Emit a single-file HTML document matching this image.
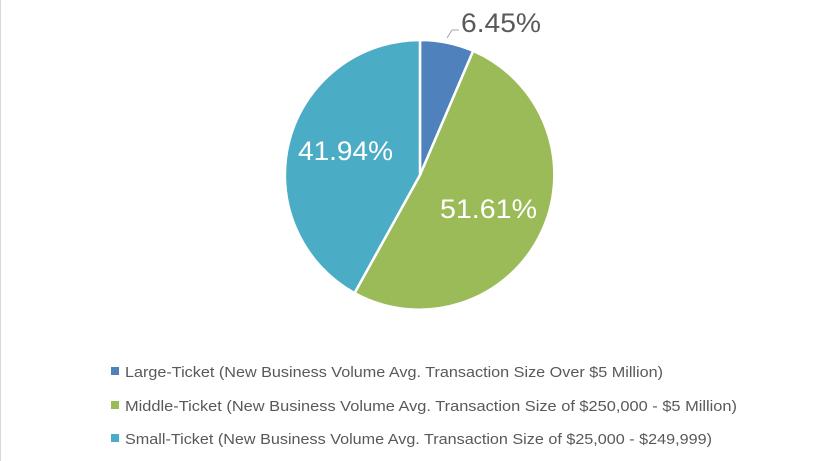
<!DOCTYPE html>
<html><head><style>body{margin:0;background:#fff}svg{display:block}</style></head><body>
<svg width="838" height="461" xmlns="http://www.w3.org/2000/svg" font-family="Liberation Sans, sans-serif">
<rect width="838" height="461" fill="#fff"/>
<line x1="0.5" y1="0" x2="0.5" y2="461" stroke="#d9d9d9"/>
<g stroke="#fff" stroke-width="2.5" stroke-linejoin="round">
<path d="M420,175 L420,40 A135,135 0 0 1 473.2,50.9 Z" fill="#4f81bd"/>
<path d="M420,175 L473.2,50.9 A135,135 0 1 1 354.5,293.1 Z" fill="#9bbb59"/>
<path d="M420,175 L354.5,293.1 A135,135 0 0 1 420,40 Z" fill="#4bacc6"/>
</g>
<polyline points="447,38 452,30 459,30" fill="none" stroke="#a6a6a6" stroke-width="1"/>
<text x="461" y="32" font-size="27" fill="#595959" textLength="80" lengthAdjust="spacingAndGlyphs">6.45%</text>
<text x="298" y="160" font-size="27" fill="#fff" textLength="95" lengthAdjust="spacingAndGlyphs">41.94%</text>
<text x="440" y="218" font-size="27" fill="#fff" textLength="97" lengthAdjust="spacingAndGlyphs">51.61%</text>
<g font-size="15" fill="#595959">
<rect x="111" y="367" width="8" height="8" fill="#4f81bd"/>
<text x="125" y="377" textLength="538" lengthAdjust="spacingAndGlyphs">Large-Ticket (New Business Volume Avg. Transaction Size Over $5 Million)</text>
<rect x="111" y="401" width="8" height="8" fill="#9bbb59"/>
<text x="125" y="411" textLength="612" lengthAdjust="spacingAndGlyphs">Middle-Ticket (New Business Volume Avg. Transaction Size of $250,000 - $5 Million)</text>
<rect x="111" y="434" width="8" height="8" fill="#4bacc6"/>
<text x="125" y="444" textLength="587" lengthAdjust="spacingAndGlyphs">Small-Ticket (New Business Volume Avg. Transaction Size of $25,000 - $249,999)</text>
</g>
</svg>
</body></html>
